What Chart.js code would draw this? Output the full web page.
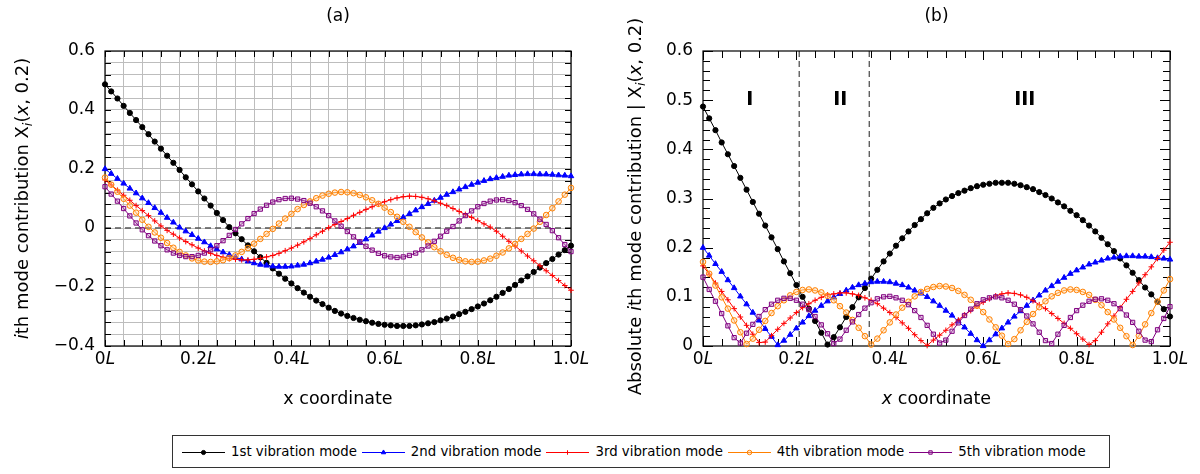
<!DOCTYPE html>
<html>
<head>
<meta charset="utf-8">
<script src="https://cdn.jsdelivr.net/npm/chart.js@4.4.0/dist/chart.umd.min.js"></script>
<style>
  body { margin: 0; background: #fff; }
  #wrap { position: relative; width: 1200px; height: 474px; overflow: hidden; }
  .panel { position: absolute; top: 0; }
  #legend {
    position: absolute; left: 172px; top: 435px; width: 938px; height: 33px;
    box-sizing: border-box; border: 1px solid #333; background: #fff;
    display: flex; align-items: center; padding-left: 9px;
    font: 13.3px "DejaVu Sans", sans-serif; color: #000; white-space: nowrap;
  }
  #legend canvas { margin-right: 6px; }
  #legend span { margin-right: 5px; }
</style>
</head>
<body>
<div id="wrap">
  <canvas id="chartA" class="panel" width="600" height="474" style="left:0"></canvas>
  <canvas id="chartB" class="panel" width="600" height="474" style="left:600px"></canvas>
  <div id="legend"></div>
</div>
<script>
// x coordinate of every sample (fraction of L)
var xCoord = [0,0.0133,0.0267,0.04,0.0533,0.0667,0.08,0.0933,0.1067,0.12,
  0.1333,0.1467,0.16,0.1733,0.1867,0.2,0.2133,0.2267,0.24,0.2533,
  0.2667,0.28,0.2933,0.3067,0.32,0.3333,0.3467,0.36,0.3733,0.3867,
  0.4,0.4133,0.4267,0.44,0.4533,0.4667,0.48,0.4933,0.5067,0.52,
  0.5333,0.5467,0.56,0.5733,0.5867,0.6,0.6133,0.6267,0.64,0.6533,
  0.6667,0.68,0.6933,0.7067,0.72,0.7333,0.7467,0.76,0.7733,0.7867,
  0.8,0.8133,0.8267,0.84,0.8533,0.8667,0.88,0.8933,0.9067,0.92,
  0.9333,0.9467,0.96,0.9733,0.9867,1.0];

// X_i(x, 0.2) (a)/(b)
var mode1 = [0.487,0.463,0.439,0.414,0.390,0.366,0.342,0.318,0.293,0.269,
  0.245,0.221,0.197,0.172,0.148,0.124,0.100,0.076,0.051,0.027,
  0.003,-0.018,-0.038,-0.059,-0.079,-0.099,-0.118,-0.137,-0.155,-0.172,
  -0.188,-0.204,-0.219,-0.233,-0.246,-0.258,-0.270,-0.281,-0.290,-0.298,
  -0.305,-0.311,-0.316,-0.321,-0.325,-0.328,-0.330,-0.332,-0.332,-0.332,
  -0.330,-0.327,-0.323,-0.319,-0.313,-0.307,-0.300,-0.292,-0.284,-0.275,
  -0.266,-0.256,-0.245,-0.233,-0.220,-0.207,-0.193,-0.178,-0.164,-0.149,
  -0.134,-0.119,-0.105,-0.090,-0.075,-0.060];
var mode2 = [0.200,0.184,0.167,0.151,0.134,0.118,0.101,0.085,0.068,0.052,
  0.035,0.019,0.002,-0.011,-0.023,-0.036,-0.048,-0.061,-0.072,-0.082,
  -0.091,-0.099,-0.106,-0.113,-0.119,-0.124,-0.127,-0.130,-0.131,-0.131,
  -0.130,-0.127,-0.124,-0.119,-0.113,-0.107,-0.100,-0.091,-0.082,-0.072,
  -0.062,-0.050,-0.038,-0.025,-0.012,0.000,0.012,0.024,0.036,0.048,
  0.060,0.071,0.082,0.093,0.103,0.113,0.122,0.131,0.139,0.147,
  0.154,0.160,0.166,0.170,0.174,0.178,0.180,0.182,0.183,0.183,
  0.182,0.182,0.181,0.179,0.178,0.176];
var mode3 = [0.163,0.146,0.128,0.111,0.094,0.076,0.059,0.042,0.024,0.007,
  -0.008,-0.021,-0.034,-0.046,-0.057,-0.068,-0.078,-0.086,-0.093,-0.099,
  -0.104,-0.106,-0.108,-0.108,-0.106,-0.103,-0.098,-0.093,-0.086,-0.077,
  -0.068,-0.058,-0.047,-0.036,-0.023,-0.011,0.001,0.012,0.022,0.032,
  0.043,0.053,0.063,0.072,0.081,0.089,0.096,0.102,0.106,0.108,
  0.107,0.104,0.099,0.092,0.084,0.076,0.066,0.056,0.046,0.036,
  0.025,0.014,0.003,-0.011,-0.028,-0.045,-0.061,-0.078,-0.095,-0.111,
  -0.128,-0.145,-0.161,-0.178,-0.195,-0.211];
var mode4 = [0.171,0.147,0.123,0.099,0.076,0.052,0.028,0.004,-0.015,-0.033,
  -0.051,-0.067,-0.081,-0.093,-0.103,-0.110,-0.114,-0.115,-0.113,-0.109,
  -0.102,-0.093,-0.081,-0.068,-0.053,-0.037,-0.020,-0.003,0.015,0.032,
  0.048,0.064,0.078,0.090,0.101,0.110,0.116,0.120,0.122,0.121,
  0.118,0.112,0.104,0.094,0.082,0.069,0.054,0.038,0.021,0.004,
  -0.014,-0.032,-0.049,-0.065,-0.079,-0.091,-0.101,-0.108,-0.113,-0.115,
  -0.114,-0.110,-0.104,-0.094,-0.083,-0.069,-0.054,-0.037,-0.020,-0.002,
  0.021,0.044,0.067,0.090,0.113,0.136];
var mode5 = [0.140,0.115,0.091,0.066,0.041,0.017,-0.006,-0.026,-0.044,-0.060,
  -0.074,-0.085,-0.093,-0.097,-0.097,-0.093,-0.085,-0.074,-0.060,-0.043,
  -0.025,-0.005,0.014,0.032,0.049,0.064,0.077,0.088,0.096,0.100,
  0.101,0.098,0.093,0.084,0.072,0.058,0.042,0.024,0.006,-0.012,
  -0.030,-0.047,-0.062,-0.075,-0.086,-0.094,-0.098,-0.100,-0.098,-0.093,
  -0.085,-0.074,-0.061,-0.045,-0.028,-0.011,0.005,0.024,0.042,0.058,
  0.072,0.083,0.091,0.095,0.096,0.093,0.086,0.076,0.063,0.048,
  0.030,0.012,-0.009,-0.033,-0.056,-0.080];

var seriesNames = ['1st vibration mode','2nd vibration mode','3rd vibration mode','4th vibration mode','5th vibration mode'];

// axis labels
var xTickVals = [0, 0.2, 0.4, 0.6, 0.8, 1.0];
var xTickText = ['0', '0.2', '0.4', '0.6', '0.8', '1.0'];
var yTickValsA = [-0.4, -0.2, 0, 0.2, 0.4, 0.6];
var yTickTextA = ['\u22120.4', '\u22120.2', '0', '0.2', '0.4', '0.6'];
var yTickValsB = [0, 0.1, 0.2, 0.3, 0.4, 0.5, 0.6];
var yTickTextB = ['0', '0.1', '0.2', '0.3', '0.4', '0.5', '0.6'];

// zones in panel (b)
var zoneBounds = [0.206, 0.356];
var zoneNames = ['I', 'II', 'III'];
var zoneNameX = [0.1, 0.294, 0.689];
var zoneNameY = 0.5;

var colors = ['#000000', '#0000ff', '#ff0000', '#ff8000', '#800080'];
var fills = ['#000000', '#0000ff', '#ff0000', 'rgba(255,200,140,0.35)', 'rgba(190,120,190,0.35)'];
var styles = ['circle', 'triangle', 'cross', 'circle', 'rect'];
var radii = [2.6, 3.2, 2.8, 2.8, 3.0];

var FAM = '"DejaVu Sans", sans-serif';

function steps(a, b, s) {
  var out = [];
  var n = Math.round((b - a) / s);
  for (var i = 0; i <= n; i++) out.push(Math.round((a + i * s) * 10000) / 10000);
  return out;
}

function drawRich(ctx, parts, x, y, align, size) {
  function font(p) {
    var st = p[1];
    var pre = (st === 'i' || st === 'si') ? 'italic ' : (st === 'b' ? 'bold ' : '');
    var sz = st === 'si' ? Math.round(size * 0.72) : size;
    return pre + sz + 'px ' + FAM;
  }
  var w = 0;
  var ws = parts.map(function (p) { ctx.font = font(p); var m = ctx.measureText(p[0]).width; w += m; return m; });
  var cx = align === 'center' ? x - w / 2 : (align === 'right' ? x - w : x);
  ctx.textAlign = 'left';
  ctx.textBaseline = 'middle';
  parts.forEach(function (p, k) {
    ctx.font = font(p);
    ctx.fillText(p[0], cx, y + (p[1] === 'si' ? size * 0.3 : 0));
    cx += ws[k];
  });
}

var decor = {
  id: 'decor',
  beforeDatasetsDraw: function (chart, args, o) {
    var ctx = chart.ctx, a = chart.chartArea, x = chart.scales.x, y = chart.scales.y;
    ctx.save();
    ctx.setLineDash([6, 4]);
    ctx.lineWidth = o.dashWidth;
    ctx.strokeStyle = o.dashColor;
    (o.hDash || []).forEach(function (v) {
      var py = y.getPixelForValue(v);
      ctx.beginPath(); ctx.moveTo(a.left, py); ctx.lineTo(a.right, py); ctx.stroke();
    });
    (o.vDash || []).forEach(function (v) {
      var px = x.getPixelForValue(v);
      ctx.beginPath(); ctx.moveTo(px, a.top); ctx.lineTo(px, a.bottom); ctx.stroke();
    });
    ctx.setLineDash([]);
    // inward ticks
    ctx.strokeStyle = '#000';
    ctx.lineWidth = 1;
    o.xMinor.forEach(function (v) {
      var px = Math.round(x.getPixelForValue(v)) + 0.5;
      var isMaj = Math.abs(v * 5 - Math.round(v * 5)) < 1e-6;
      var len = isMaj ? o.xMajLen : o.xMinLen;
      ctx.beginPath();
      ctx.moveTo(px, a.bottom); ctx.lineTo(px, a.bottom - len);
      ctx.moveTo(px, a.top); ctx.lineTo(px, a.top + len);
      ctx.stroke();
    });
    o.yMinor.forEach(function (v) {
      var py = Math.round(y.getPixelForValue(v)) + 0.5;
      var isMaj = o.yMajor.some(function (m) { return Math.abs(m - v) < 1e-6; });
      var len = isMaj ? o.yMajLen : o.yMinLen;
      ctx.beginPath();
      ctx.moveTo(a.left, py); ctx.lineTo(a.left + len, py);
      ctx.moveTo(a.right, py); ctx.lineTo(a.right - len, py);
      ctx.stroke();
    });
    // frame
    ctx.lineWidth = 1.2;
    ctx.strokeRect(a.left, a.top, a.right - a.left, a.bottom - a.top);
    ctx.restore();
  },
  afterDraw: function (chart, args, o) {
    var ctx = chart.ctx, a = chart.chartArea, x = chart.scales.x, y = chart.scales.y;
    ctx.save();
    ctx.fillStyle = '#000';
    var cxm = (a.left + a.right) / 2;
    drawRich(ctx, [[o.title, '']], cxm, 17, 'center', 17);
    xTickVals.forEach(function (v, k) {
      drawRich(ctx, [[xTickText[k], ''], ['L', 'i']], x.getPixelForValue(v), 360, 'center', 17);
    });
    o.yVals.forEach(function (v, k) {
      drawRich(ctx, [[o.yText[k], '']], a.left - 10, y.getPixelForValue(v), 'right', 17);
    });
    drawRich(ctx, o.xTitle, cxm, 399, 'center', 17.5);
    ctx.save();
    ctx.translate(o.yTitleX, (a.top + a.bottom) / 2 + o.yTitleShift);
    ctx.rotate(-Math.PI / 2);
    drawRich(ctx, o.yTitle, 0, 0, 'center', 18);
    ctx.restore();
    if (o.zones) {
      zoneNames.forEach(function (t, k) {
        drawRich(ctx, [[t, 'b']], x.getPixelForValue(zoneNameX[k]), y.getPixelForValue(zoneNameY), 'center', 19);
      });
    }
    ctx.restore();
  }
};

function makeDatasets(modes) {
  return modes.map(function (vals, k) {
    return {
      label: seriesNames[k],
      data: vals.map(function (v, i) { return { x: xCoord[i], y: v }; }),
      borderColor: colors[k],
      backgroundColor: fills[k],
      borderWidth: 1,
      pointStyle: styles[k],
      pointRadius: radii[k],
      pointBorderWidth: 1,
      pointBorderColor: colors[k],
      pointBackgroundColor: fills[k],
      tension: 0,
      clip: 8,
      order: 5 - k
    };
  });
}

function makeChart(id, modes, yMin, yMax, grid, pad, deco) {
  var xMinor = steps(0, 1, 0.04);
  return new Chart(document.getElementById(id), {
    type: 'line',
    data: { datasets: makeDatasets(modes) },
    options: {
      responsive: false,
      animation: false,
      events: [],
      layout: { padding: pad },
      plugins: { legend: { display: false }, tooltip: { enabled: false }, decor: deco },
      scales: {
        x: {
          type: 'linear', min: 0, max: 1,
          afterBuildTicks: function (s) { s.ticks = xMinor.map(function (v) { return { value: v }; }); },
          ticks: { display: false },
          grid: { display: grid, color: '#bdbdbd', lineWidth: 1, drawTicks: false },
          border: { display: false }
        },
        y: {
          type: 'linear', min: yMin, max: yMax,
          afterBuildTicks: function (s) { s.ticks = deco.yMinor.map(function (v) { return { value: v }; }); },
          ticks: { display: false },
          grid: { display: grid, color: '#bdbdbd', lineWidth: 1, drawTicks: false },
          border: { display: false }
        }
      }
    },
    plugins: [decor]
  });
}

makeChart('chartA', [mode1, mode2, mode3, mode4, mode5], -0.4, 0.6, true,
  { left: 105, right: 29, top: 51, bottom: 128 },
  {
    title: '(a)', dashColor: '#555', dashWidth: 1.5, hDash: [0],
    xMinor: steps(0, 1, 0.04), xMinLen: 6, xMajLen: 6,
    yMinor: steps(-0.4, 0.6, 0.04), yMajor: yTickValsA, yMinLen: 6, yMajLen: 6,
    yVals: yTickValsA, yText: yTickTextA,
    xTitle: [['x coordinate', '']],
    yTitle: [['i', 'i'], ['th mode contribution X', ''], ['i', 'si'], ['(', ''], ['x', 'i'], [', 0.2)', '']],
    yTitleX: 23, yTitleShift: 0
  });

var absModes = [mode1, mode2, mode3, mode4, mode5].map(function (m) { return m.map(Math.abs); });
makeChart('chartB', absModes, 0, 0.6, false,
  { left: 103, right: 30, top: 51, bottom: 128 },
  {
    title: '(b)', dashColor: '#444', dashWidth: 1.2, vDash: zoneBounds, zones: true,
    xMinor: steps(0, 1, 0.04), xMinLen: 7, xMajLen: 9,
    yMinor: steps(0, 0.6, 0.02), yMajor: yTickValsB, yMinLen: 7, yMajLen: 10,
    yVals: yTickValsB, yText: yTickTextB,
    xTitle: [['x', 'i'], [' coordinate', '']],
    yTitle: [['Absolute ', ''], ['i', 'i'], ['th mode contribution | X', ''], ['i', 'si'], ['(', ''], ['x', 'i'], [', 0.2)', '']],
    yTitleX: 36, yTitleShift: 8
  });

// legend
var leg = document.getElementById('legend');
seriesNames.forEach(function (name, k) {
  var c = document.createElement('canvas');
  c.width = 43; c.height = 14;
  var g = c.getContext('2d');
  g.strokeStyle = colors[k];
  g.lineWidth = 1;
  g.beginPath(); g.moveTo(0, 7.5); g.lineTo(43, 7.5); g.stroke();
  g.fillStyle = fills[k];
  Chart.helpers.drawPoint(g, { pointStyle: styles[k], radius: radii[k] * 0.8, borderWidth: 1, rotation: 0 }, 21.5, 7.5);
  leg.appendChild(c);
  var s = document.createElement('span');
  s.textContent = name;
  leg.appendChild(s);
});
</script>
</body>
</html>
